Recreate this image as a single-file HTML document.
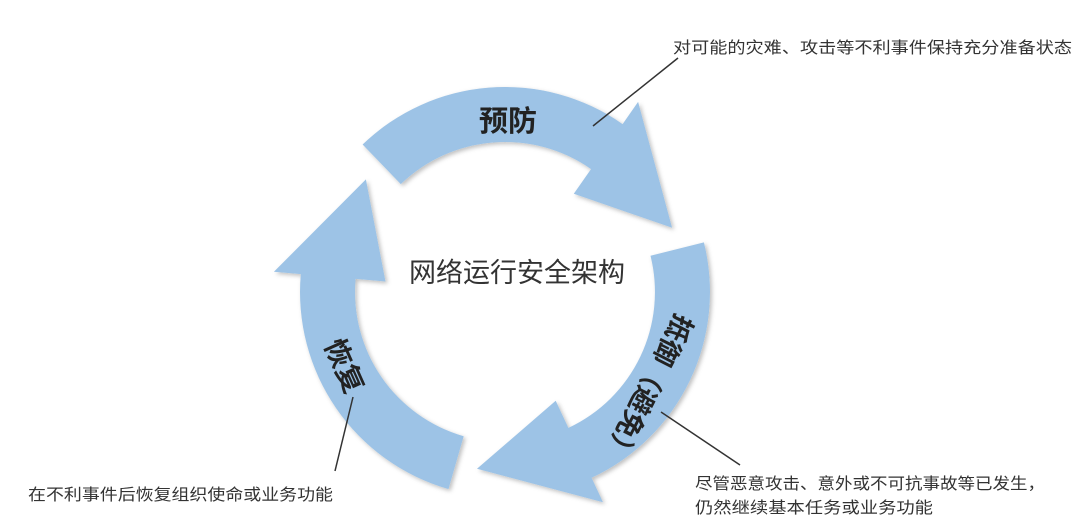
<!DOCTYPE html>
<html><head><meta charset="utf-8"><style>
html,body{margin:0;padding:0;background:#fff;}
svg{display:block;}
text{font-family:"Liberation Sans","Noto Sans CJK SC",sans-serif;}
</style></head><body>
<svg width="1080" height="532" viewBox="0 0 1080 532" xmlns="http://www.w3.org/2000/svg">
<defs>
<filter id="sh" x="-10%" y="-10%" width="120%" height="120%">
<feDropShadow dx="2" dy="2" stdDeviation="2" flood-color="#000" flood-opacity="0.25"/>
</filter>
</defs>
<g fill="#9dc3e6" filter="url(#sh)">
<path d="M362.6,144.5 A205,205 0 0 1 622.6,124.1 L638.1,101.9 L672.1,227.8 L573.8,193.7 L591.0,169.1 A150,150 0 0 0 400.8,184.1 Z"/>
<path d="M703.9,242.4 A205,205 0 0 1 591.6,477.8 L603.0,502.3 L477.0,468.8 L555.7,400.8 L568.4,427.9 A150,150 0 0 0 650.5,255.7 Z"/>
<path d="M448.5,489.1 A205,205 0 0 1 300.8,274.1 L273.9,271.8 L365.9,179.4 L385.5,281.5 L355.6,278.9 A150,150 0 0 0 463.7,436.2 Z"/>
</g>
<text x="508" y="131" font-size="29" font-weight="bold" fill="#222" text-anchor="middle">预防</text>
<text x="517" y="282" font-size="27" fill="#333" text-anchor="middle">网络运行安全架构</text>
<text transform="translate(648,388) rotate(117)" font-size="27" font-weight="bold" fill="#222" text-anchor="middle" dominant-baseline="central">抵御（避免）</text>
<text transform="translate(344,366) rotate(66)" font-size="28" font-weight="bold" fill="#222" text-anchor="middle" dominant-baseline="central">恢复</text>
<g stroke="#333" stroke-width="1.5">
<line x1="593" y1="126" x2="678" y2="58"/>
<line x1="661" y1="412" x2="740" y2="465"/>
<line x1="353" y1="397" x2="335" y2="471"/>
</g>
<g font-size="16" fill="#333">
<text x="673" y="53" textLength="399" lengthAdjust="spacingAndGlyphs">对可能的灾难、攻击等不利事件保持充分准备状态</text>
<text x="695" y="489" textLength="350" lengthAdjust="spacingAndGlyphs">尽管恶意攻击、意外或不可抗事故等已发生，</text>
<text x="695" y="513" textLength="238" lengthAdjust="spacingAndGlyphs">仍然继续基本任务或业务功能</text>
<text x="28" y="500" textLength="305" lengthAdjust="spacingAndGlyphs">在不利事件后恢复组织使命或业务功能</text>
</g>
</svg>
</body></html>
